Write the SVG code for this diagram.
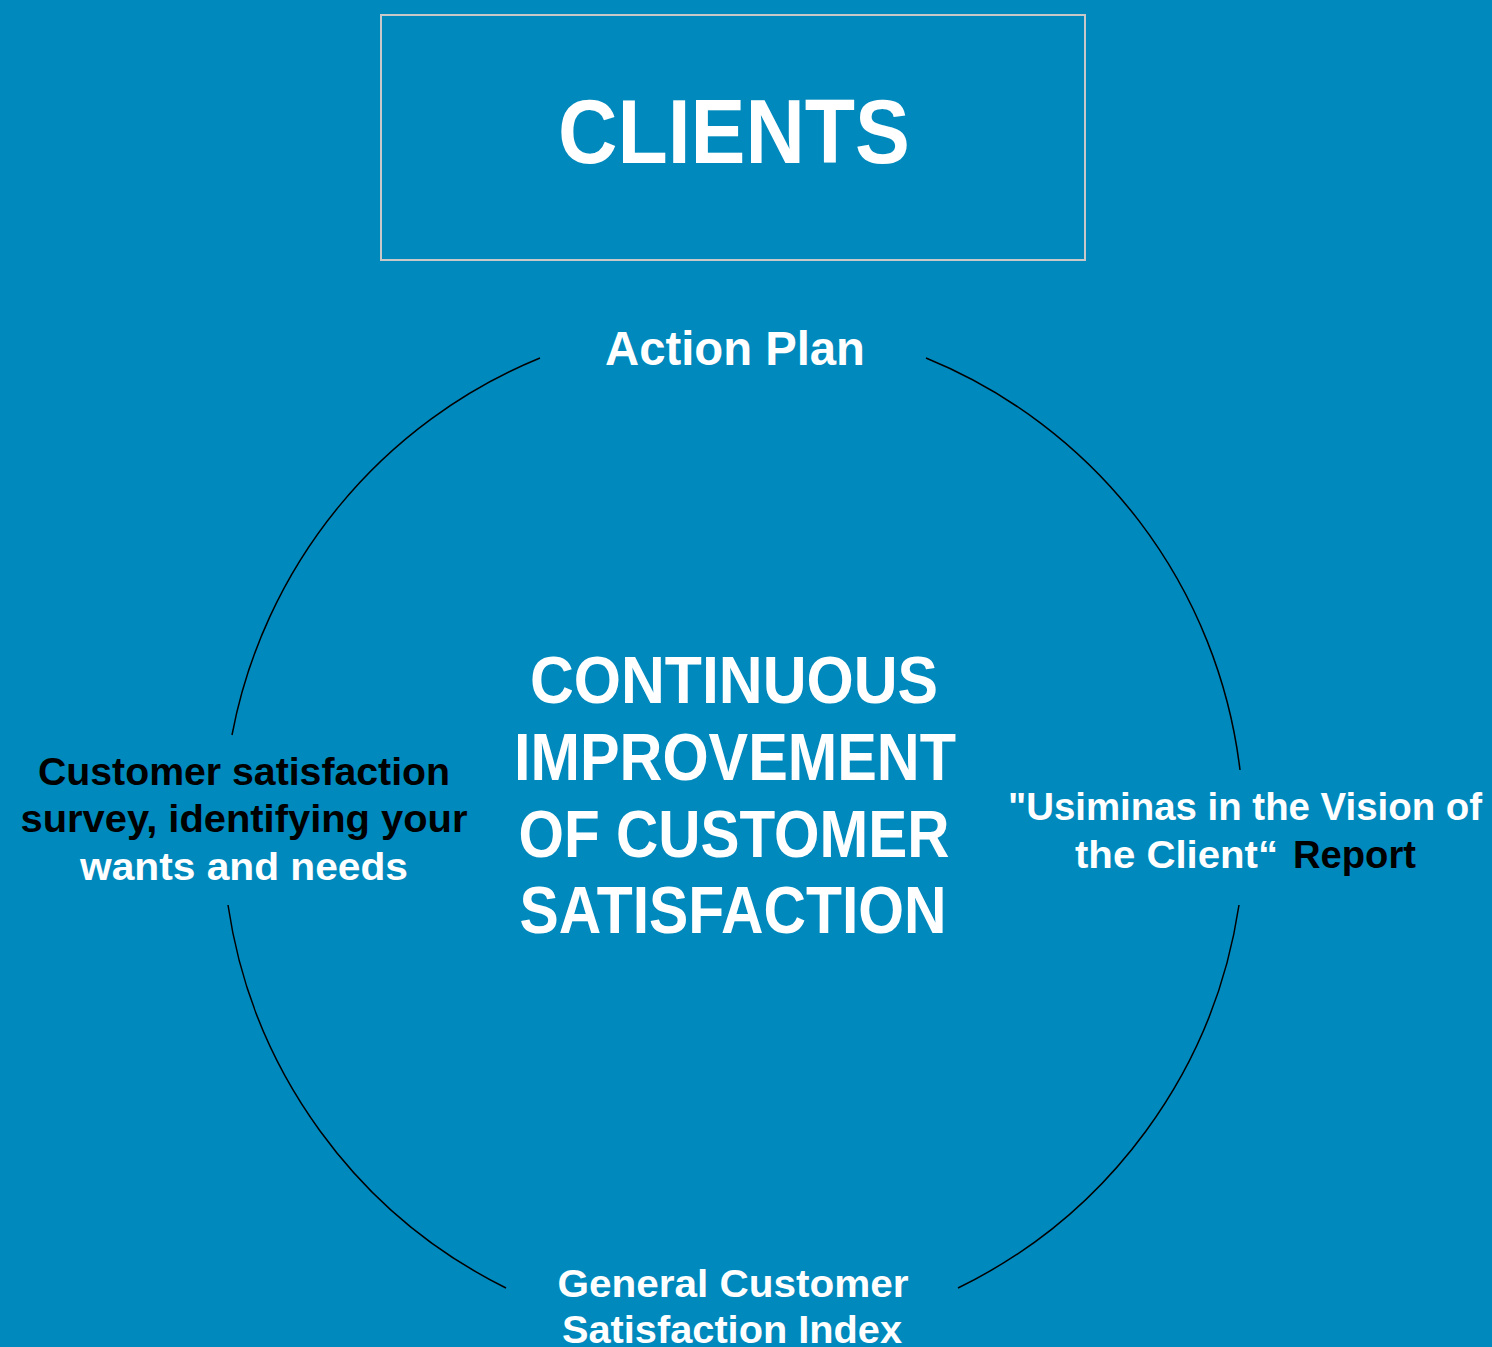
<svg xmlns="http://www.w3.org/2000/svg" width="1492" height="1347" viewBox="0 0 1492 1347">
<style>
.t{font-family:"Liberation Sans",Arial,sans-serif;font-weight:bold;}
.w{fill:#ffffff;}
.k{fill:#000000;}
.arc{fill:none;stroke:#000000;stroke-width:1.5;}
</style>
<rect x="0" y="0" width="1492" height="1347" fill="#0089BD"/>
<g id="connectors">
<path class="arc" d="M926,358 A510,510 0 0 1 1240,770"/>
<path class="arc" d="M1239,905 A510,510 0 0 1 958,1288"/>
<path class="arc" d="M506,1288 A510,510 0 0 1 228,905"/>
<path class="arc" d="M232,735 A510,510 0 0 1 540,358"/>
</g>
<g id="clients">
<rect x="381" y="15" width="704" height="245" fill="none" stroke="#c8c8c8" stroke-width="2"/>
<text class="t w" x="734" y="163" font-size="90" text-anchor="middle" textLength="352" lengthAdjust="spacingAndGlyphs">CLIENTS</text>
</g>
<g id="center">
<text class="t w" x="734" y="703" font-size="66" text-anchor="middle" textLength="408" lengthAdjust="spacingAndGlyphs">CONTINUOUS</text>
<text class="t w" x="735" y="780" font-size="66" text-anchor="middle" textLength="442" lengthAdjust="spacingAndGlyphs">IMPROVEMENT</text>
<text class="t w" x="734" y="857" font-size="66" text-anchor="middle" textLength="431" lengthAdjust="spacingAndGlyphs">OF CUSTOMER</text>
<text class="t w" x="733" y="933" font-size="66" text-anchor="middle" textLength="427" lengthAdjust="spacingAndGlyphs">SATISFACTION</text>
</g>
<g id="action-plan">
<text class="t w" x="735" y="365" font-size="48" text-anchor="middle" textLength="260" lengthAdjust="spacingAndGlyphs">Action Plan</text>
</g>
<g id="survey">
<text class="t k" x="244" y="785" font-size="39" text-anchor="middle" textLength="412" lengthAdjust="spacingAndGlyphs">Customer satisfaction</text>
<text class="t k" x="244" y="832" font-size="39" text-anchor="middle" textLength="447" lengthAdjust="spacingAndGlyphs">survey, identifying your</text>
<text class="t w" x="244" y="880" font-size="39" text-anchor="middle" textLength="328" lengthAdjust="spacingAndGlyphs">wants and needs</text>
</g>
<g id="report">
<text class="t w" x="1008" y="820" font-size="39" textLength="474" lengthAdjust="spacingAndGlyphs">"Usiminas in the Vision of</text>
<text class="t w" x="1075" y="868" font-size="39" textLength="203" lengthAdjust="spacingAndGlyphs">the Client“</text>
<text class="t k" x="1293" y="868" font-size="39" textLength="123" lengthAdjust="spacingAndGlyphs">Report</text>
</g>
<g id="index">
<text class="t w" x="733" y="1297" font-size="39" text-anchor="middle" textLength="351" lengthAdjust="spacingAndGlyphs">General Customer</text>
<text class="t w" x="732" y="1343" font-size="39" text-anchor="middle" textLength="340" lengthAdjust="spacingAndGlyphs">Satisfaction Index</text>
</g>
</svg>
